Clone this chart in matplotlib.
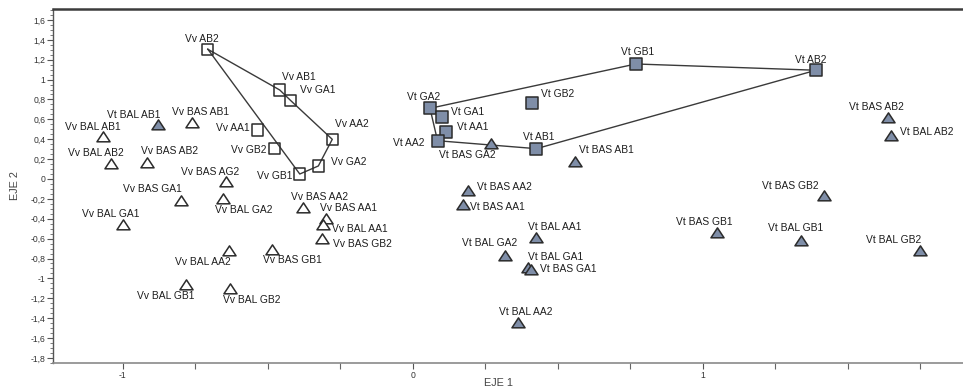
import matplotlib
matplotlib.use("Agg")
import matplotlib.pyplot as plt
from matplotlib.ticker import MultipleLocator, FixedLocator, FuncFormatter
from matplotlib.path import Path
import numpy as np

plt.rcParams['font.family'] = ['Liberation Sans', 'DejaVu Sans']

# ---- data ----
vv_sq_names = ["Vv AB2", "Vv AB1", "Vv GA1", "Vv AA1", "Vv GB2", "Vv GB1", "Vv GA2", "Vv AA2"]
vv_sq_x = [-0.707, -0.459, -0.421, -0.536, -0.478, -0.390, -0.326, -0.278]
vv_sq_y = [1.305, 0.895, 0.788, 0.493, 0.309, 0.050, 0.131, 0.399]
vv_hull = ["Vv AB2", "Vv AB1", "Vv GA1", "Vv AA2", "Vv GA2", "Vv GB1", "Vv AB2"]

vt_sq_names = ["Vt GA2", "Vt GA1", "Vt AA1", "Vt AA2", "Vt GB2", "Vt AB1", "Vt GB1", "Vt AB2"]
vt_sq_x = [0.059, 0.099, 0.113, 0.085, 0.411, 0.426, 0.769, 1.390]
vt_sq_y = [0.711, 0.620, 0.470, 0.385, 0.768, 0.305, 1.157, 1.094]
vt_hull = ["Vt GA2", "Vt GB1", "Vt AB2", "Vt AB1", "Vt AA2", "Vt GA2"]

vv_tri_names = ["Vv BAL AB1", "Vv BAL AB2", "Vv BAS AB2", "Vv BAS AB1", "Vv BAS AG2",
                "Vv BAS GA1", "Vv BAL GA2", "Vv BAL GA1", "Vv BAL AA2", "Vv BAS GB1",
                "Vv BAL GB1", "Vv BAL GB2", "Vv BAS AA2", "Vv BAS AA1", "Vv BAL AA1",
                "Vv BAS GB2"]
vv_tri_x = [-1.068, -1.041, -0.918, -0.760, -0.643, -0.800, -0.654, -0.999, -0.633, -0.485,
            -0.784, -0.631, -0.378, -0.300, -0.311, -0.315]
vv_tri_y = [0.426, 0.148, 0.158, 0.566, -0.027, -0.218, -0.204, -0.463, -0.724, -0.714,
            -1.066, -1.107, -0.295, -0.406, -0.463, -0.607]

vt_tri_names = ["Vt BAL AB1", "Vt BAS GA2", "Vt BAS AB1", "Vt BAS AA2", "Vt BAS AA1",
                "Vt BAL AA1", "Vt BAL GA2", "Vt BAL GA1", "Vt BAS GA1", "Vt BAL AA2",
                "Vt BAS AB2", "Vt BAL AB2", "Vt BAS GB2", "Vt BAS GB1", "Vt BAL GB1",
                "Vt BAL GB2"]
vt_tri_x = [-0.880, 0.269, 0.559, 0.189, 0.174, 0.423, 0.317, 0.398, 0.407, 0.363,
            1.637, 1.648, 1.417, 1.049, 1.337, 1.748]
vt_tri_y = [0.543, 0.352, 0.168, -0.121, -0.262, -0.597, -0.771, -0.899, -0.915, -1.452,
            0.610, 0.433, -0.171, -0.540, -0.620, -0.724]

y_ticks = [1.6, 1.4, 1.2, 1.0, 0.8, 0.6, 0.4, 0.2, 0.0, -0.2, -0.4, -0.6, -0.8, -1.0,
           -1.2, -1.4, -1.6, -1.8]
x_ticks = [-1, 0, 1]

# label offsets (pixels, right / down) from marker centre to label centre
label_off = {
    "Vv AB2": (-5.5, -10), "Vv AB1": (19, -13), "Vv GA1": (26.5, -10.7), "Vv AA1": (-25, -2),
    "Vv GB2": (-25.6, 1.7), "Vv GB1": (-25.3, 1.7), "Vv GA2": (30.5, -4.3), "Vv AA2": (19.7, -15),
    "Vt GA2": (-6.2, -11), "Vt GA1": (25.8, -5), "Vt AA1": (26.8, -5.6), "Vt AA2": (-29, 2),
    "Vt GB2": (26, -8.4), "Vt AB1": (2.3, -12), "Vt GB1": (2, -12), "Vt AB2": (-5.2, -10.3),
    "Vv BAL AB1": (-10.7, -10), "Vv BAL AB2": (-14.7, -11.7), "Vv BAS AB2": (23, -12.7),
    "Vv BAS AB1": (8.3, -11), "Vv BAS AG2": (-16, -10), "Vv BAS GA1": (-29, -11.3),
    "Vv BAL GA2": (20.5, 10.7), "Vv BAL GA1": (-12.5, -11), "Vv BAL AA2": (-26.3, 10.7),
    "Vv BAS GB1": (20.2, 10), "Vv BAL GB1": (-20.2, 11), "Vv BAL GB2": (22, 11),
    "Vv BAS AA2": (16.2, -11), "Vv BAS AA1": (22.7, -11.6), "Vv BAL AA1": (37.3, 4.3),
    "Vv BAS GB2": (40.8, 4.7),
    "Vt BAL AB1": (-24, -10), "Vt BAS GA2": (-23.2, 11), "Vt BAS AB1": (31.5, -12.3),
    "Vt BAS AA2": (36.8, -3.7), "Vt BAS AA1": (34.5, 1.7), "Vt BAL AA1": (19.3, -11),
    "Vt BAL GA2": (-15, -12.4), "Vt BAL GA1": (27.5, -11.6), "Vt BAS GA1": (37.8, -1),
    "Vt BAL AA2": (8, -11), "Vt BAS AB2": (-11.4, -11), "Vt BAL AB2": (36, -4.3),
    "Vt BAS GB2": (-33.7, -10.3), "Vt BAS GB1": (-12.6, -11), "Vt BAL GB1": (-4.7, -13),
    "Vt BAL GB2": (-26, -11),
}

# ---- styling ----
DPI = 100
fig = plt.figure(figsize=(9.63, 3.87), dpi=DPI)
ax = fig.add_axes([53 / 963, 1 - 363 / 387, 1 - 53 / 963, (363 - 9) / 387])
ax.set_xlim(-1.241, 1.897)
ax.set_ylim(-1.851, 1.710)

fill_col = "#7f8ea8"
edge_col = "#2b2b2b"
line_col = "#3a3a3a"
tri = Path([(-1, -0.66), (1, -0.66), (0, 0.86), (-1, -0.66)],
           [Path.MOVETO, Path.LINETO, Path.LINETO, Path.CLOSEPOLY])

def hull(names, xs, ys, order):
    idx = [names.index(n) for n in order]
    ax.plot([xs[i] for i in idx], [ys[i] for i in idx], color=line_col, lw=1.0, zorder=2)

hull(vv_sq_names, vv_sq_x, vv_sq_y, vv_hull)
hull(vt_sq_names, vt_sq_x, vt_sq_y, vt_hull)

ax.scatter(vv_sq_x, vv_sq_y, marker='s', s=8.0**2, facecolor='none', edgecolor=edge_col,
           linewidths=1.1, zorder=3)
ax.scatter(vt_sq_x, vt_sq_y, marker='s', s=8.0**2, facecolor=fill_col, edgecolor=edge_col,
           linewidths=1.1, zorder=3)
ax.scatter(vv_tri_x, vv_tri_y, marker=tri, s=9.4**2, facecolor='white', edgecolor=edge_col,
           linewidths=1.1, zorder=3)
ax.scatter(vt_tri_x, vt_tri_y, marker=tri, s=9.4**2, facecolor=fill_col, edgecolor=edge_col,
           linewidths=1.1, zorder=3)

px2pt = 72.0 / DPI
for names, xs, ys in [(vv_sq_names, vv_sq_x, vv_sq_y), (vt_sq_names, vt_sq_x, vt_sq_y),
                      (vv_tri_names, vv_tri_x, vv_tri_y), (vt_tri_names, vt_tri_x, vt_tri_y)]:
    for n, x, y in zip(names, xs, ys):
        dx, dy = label_off[n]
        ax.annotate(n, (x, y), xytext=(dx * px2pt, -dy * px2pt), textcoords='offset points',
                    ha='center', va='center', fontsize=7.4, color='#1e1e1e', zorder=4)

# axes
fmt = FuncFormatter(lambda v, p: ("%g" % round(v, 2)).replace('.', ','))
ax.yaxis.set_major_locator(FixedLocator(y_ticks))
ax.yaxis.set_minor_locator(MultipleLocator(0.05))
ax.yaxis.set_major_formatter(fmt)
ax.xaxis.set_major_locator(FixedLocator(x_ticks))
ax.xaxis.set_minor_locator(MultipleLocator(0.25))
ax.xaxis.set_major_formatter(fmt)

ax.tick_params(axis='both', which='major', labelsize=6.2, labelcolor='#333333', color='#555555',
               length=4, width=0.8, pad=1.5)
ax.tick_params(axis='both', which='minor', color='#666666', length=2, width=0.6)
ax.tick_params(axis='x', which='minor', length=4, width=0.8)

ax.spines['right'].set_visible(False)
ax.spines['top'].set_color('#3c3c3c')
ax.spines['top'].set_linewidth(1.8)
ax.spines['left'].set_color('#555555')
ax.spines['left'].set_linewidth(1.0)
ax.spines['bottom'].set_color('#8a8a8a')
ax.spines['bottom'].set_linewidth(1.2)

ax.set_xlabel("EJE 1", fontsize=7.8, color='#444444')
ax.xaxis.set_label_coords((498 - 53) / 910, -(383 - 363) / 354)
ax.xaxis.label.set_verticalalignment('center')
ax.set_ylabel("EJE 2", fontsize=7.8, color='#444444')
ax.yaxis.set_label_coords(-(53 - 20) / 910, 0.5)

fig.savefig("out.png", dpi=DPI)
